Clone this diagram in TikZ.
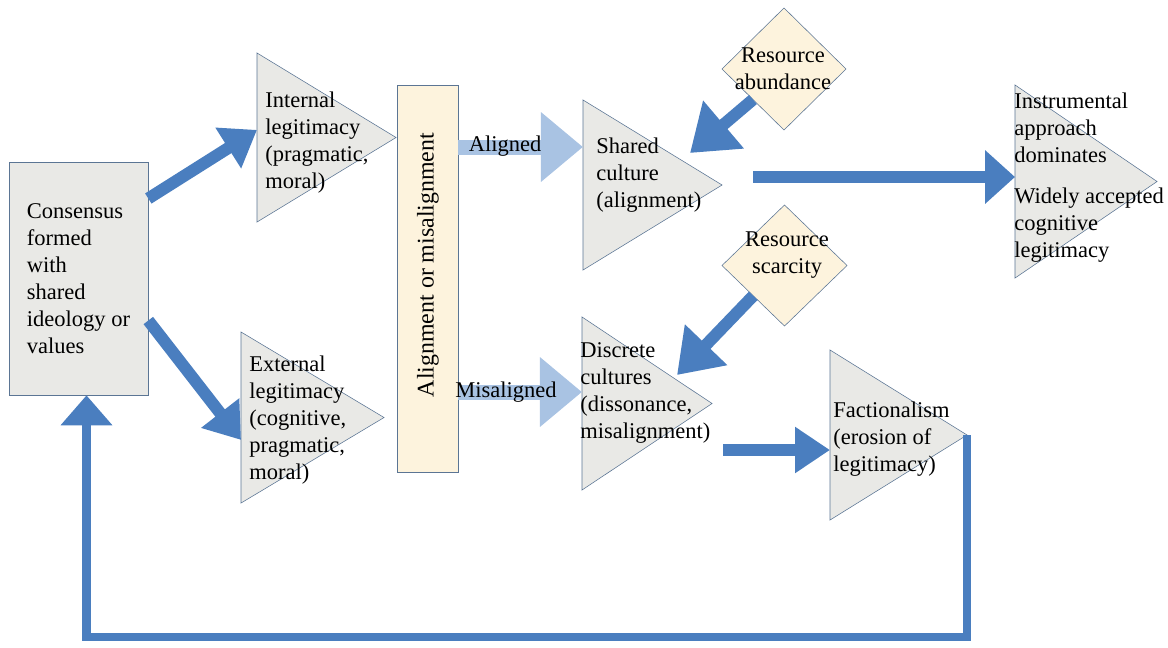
\documentclass[tikz,border=0pt]{standalone}
\usepackage{fontspec}
\setmainfont{Liberation Serif}
\usetikzlibrary{shapes.geometric,arrows.meta,positioning}

\definecolor{flowblue}{HTML}{4A7EBF}
\definecolor{paleblue}{HTML}{A9C3E3}
\definecolor{edgeblue}{HTML}{5B7594}
\definecolor{grain}{HTML}{E9E9E6}
\definecolor{cream}{HTML}{FDF3DD}

\begin{document}
\begin{tikzpicture}
[
  x=0.025cm, y=-0.025cm,
  font=\fontsize{16}{19.2}\selectfont,
  tri/.style={isosceles triangle, isosceles triangle stretches, shape border rotate=0,
    draw=edgeblue, fill=grain, inner sep=0pt, outer sep=0pt, anchor=west},
  res/.style={diamond, draw=edgeblue, fill=cream, inner sep=0pt, outer sep=0pt,
    minimum width=3.1cm, minimum height=3.05cm},
  txt/.style={align=left, inner sep=0pt, anchor=west},
  flow/.style 2 args={draw=flowblue, line width=0.3cm, -{Triangle[length=#1,width=#2]}},
  pass/.style={draw=paleblue, line width=0.375cm, -{Triangle[length=1.05cm,width=1.675cm]}},
  loopline/.style={draw=flowblue, line width=0.22cm, -{Triangle[length=0.75cm,width=1.25cm]}}
]
 \useasboundingbox (0,0) rectangle (1168,647);

 % consensus
 \node[draw=edgeblue, fill=grain, minimum width=3.475cm, minimum height=5.825cm,
   align=left, inner sep=0pt] (cons) at (78.5,278.5)
   {Consensus\\formed\\with\\shared\\ideology or\\values};

 % legitimacy triangles (minimum width = base, minimum height = depth)
 \node[tri, minimum height=3.475cm, minimum width=4.225cm] (intl) at (257,137.5) {};
 \node[tri, minimum height=3.575cm, minimum width=4.275cm] (extl) at (241,417.5) {};
 \node[txt] (intl-txt) at (265,143) {Internal\\legitimacy\\(pragmatic,\\moral)};
 \node[txt] (extl-txt) at (249,420) {External\\legitimacy\\(cognitive,\\pragmatic,\\moral)};

 % alignment bar
 \node[draw=edgeblue, fill=cream, minimum width=1.525cm, minimum height=9.675cm,
   inner sep=0pt] (align) at (427.5,278.5) {};
 \node[rotate=90, inner sep=0pt, font=\fontsize{17}{20}\selectfont] (align-txt) at (428,265) {Alignment or misalignment};

 % cultures
 \node[tri, minimum height=3.475cm, minimum width=4.25cm] (shared) at (583,185) {};
 \node[tri, minimum height=3.25cm, minimum width=4.325cm] (discrete) at (582,403.5) {};
 \node[tri, minimum height=3.425cm, minimum width=4.25cm] (faction) at (830,435) {};
 \node[tri, minimum height=3.55cm, minimum width=4.825cm] (instr) at (1015,181.5) {};

 % resources
 \node[res] (abund) at (784,69) {};
 \node[res, minimum width=3.125cm, minimum height=3.025cm] (scarc) at (784.5,265.5) {};

 \coordinate (ali-start) at (458,147);
 \coordinate (mis-start) at (458,392);
 \coordinate (long-start) at (753,177);
 \coordinate (fac-start) at (723,450);
 \coordinate (abund-in) at (690,153);
 \coordinate (scarc-in) at (677,375);
 \coordinate (fb-low) at (0,637);

 \draw[pass] (ali-start) -- (ali-start -| shared.west);
 \draw[pass] (mis-start) -- (mis-start -| discrete.west);

 \draw[flow={0.85cm}{1.15cm}] ([yshift=2cm]cons.east) -- ([yshift=0.19cm]intl.west);
 \draw[flow={0.85cm}{1.15cm}] ([yshift=-1.05cm]cons.east) -- ([yshift=-0.56cm]extl.west);
 \draw[flow={1.1cm}{1.5cm}] (abund.south west) -- (abund-in);
 \draw[flow={1.05cm}{1.4cm}] (scarc.south west) -- (scarc-in);
 \draw[flow={0.75cm}{1.3cm}] (long-start) -- (long-start -| instr.west);
 \draw[flow={0.875cm}{1.1cm}] (fac-start) -- (fac-start -| faction.west);
 \draw[loopline] (faction.apex) -- (faction.apex |- fb-low) -| ([xshift=0.2cm]cons.south);

 % labels
 \node[inner sep=0pt] (ali-txt) at (505,146) {Aligned};
 \node[inner sep=0pt] (mis-txt) at (506,392) {Misaligned};
 \node[align=center, inner sep=0pt] (abund-txt) at (783,68.5) {Resource\\abundance};
 \node[align=center, inner sep=0pt] (scarc-txt) at (787,255) {Resource\\scarcity};
 \node[txt] (shared-txt) at (596,175) {Shared\\culture\\(alignment)};
 \node[txt] (discrete-txt) at (580,392.5) {Discrete\\cultures\\(dissonance,\\misalignment)};
 \node[txt] (faction-txt) at (833,439) {Factionalism\\(erosion of\\legitimacy)};
 \node[txt] (instr-txt) at (1014,177.5) {Instrumental\\approach\\dominates\\[0.35cm]Widely accepted\\cognitive\\legitimacy};
\end{tikzpicture}
\end{document}
